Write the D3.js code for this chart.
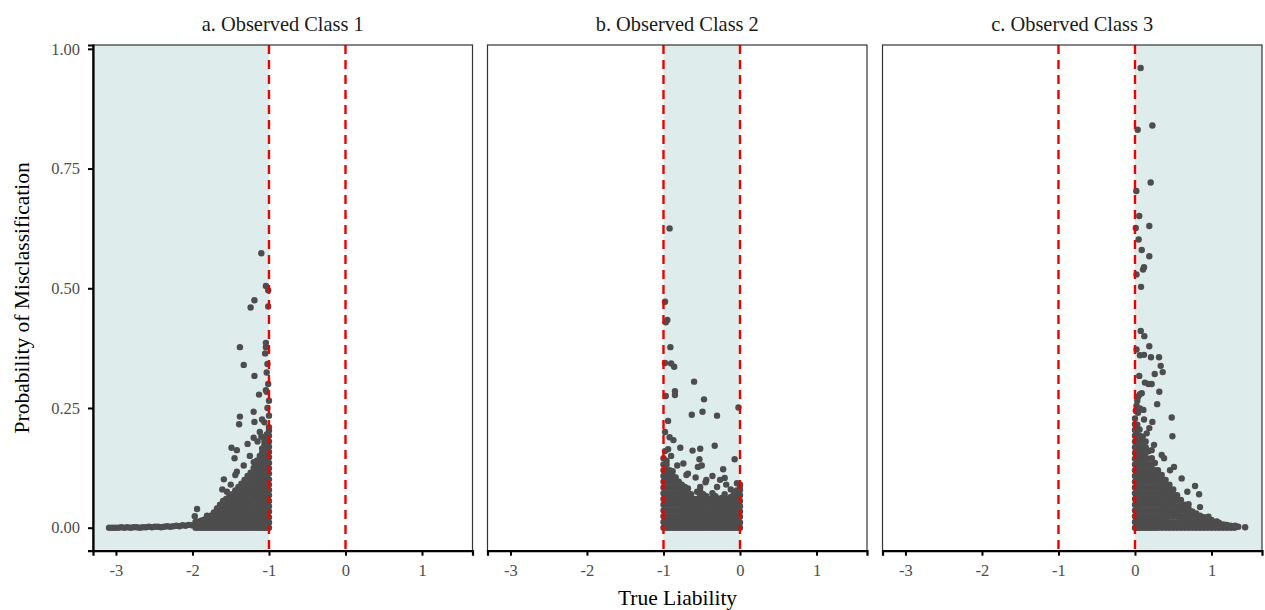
<!DOCTYPE html>
<html>
<head>
<meta charset="utf-8">
<script src="https://cdn.jsdelivr.net/npm/d3@7"></script>
<style>
  body { margin: 0; background: #fff; }
  text { font-family: "Liberation Serif", "Times New Roman", serif; }
</style>
</head>
<body>
<div id="plot"></div>
<script>
// Panel titles and axis info
const panelTitles = ["a. Observed Class 1", "b. Observed Class 2", "c. Observed Class 3"];
const cutpoints = [-1, 0];
const shadeRanges = [[null, -1], [-1, 0], [0, null]];
const xTicks = [-3, -2, -1, 0, 1];
const xTickLabels = ["-3", "-2", "-1", "0", "1"];
const yTicks = [0, 0.25, 0.5, 0.75, 1];
const yTickLabels = ["0.00", "0.25", "0.50", "0.75", "1.00"];

// Class 1: scattered points
const class1Points = [
  [-1.10,0.573],[-1.04,0.505],[-1.01,0.496],[-1.19,0.475],[-1.24,0.460],[-1.01,0.462],
  [-1.38,0.377],[-1.04,0.386],[-1.04,0.377],[-1.05,0.364],[-1.33,0.340],[-1.19,0.317],
  [-1.03,0.324],[-1.04,0.287],[-1.13,0.278],[-1.03,0.284],[-1.00,0.265],[-1.38,0.232],
  [-1.39,0.216],[-1.20,0.242],[-1.19,0.221],[-1.09,0.226],[-1.00,0.234],[-1.20,0.188],
  [-1.28,0.175],[-1.49,0.167],[-1.42,0.162],[-1.45,0.145],[-1.20,0.137],[-1.59,0.101],
  [-1.61,0.080],[-1.44,0.110],[-1.42,0.117],[-1.94,0.039],[-1.97,0.024],[-1.81,0.025],
  [-1.68,0.027],[-1.02,0.250],[-1.06,0.220],[-1.12,0.200],[-1.15,0.180],[-1.25,0.150],
  [-1.33,0.130],[-1.50,0.090],[-1.55,0.075],[-1.10,0.190],[-1.01,0.300],[-1.02,0.342]
];
// Class 1: long flat tail near zero
const class1Tail = [
  [-3.09,0.000],[-3.05,0.000],[-3.01,0.000],[-2.97,0.000],[-2.93,0.001],[-2.89,0.000],
  [-2.85,0.001],[-2.81,0.000],[-2.77,0.001],[-2.73,0.001],[-2.69,0.000],[-2.65,0.001],
  [-2.61,0.001],[-2.57,0.002],[-2.53,0.001],[-2.49,0.002],[-2.45,0.002],[-2.41,0.001],
  [-2.37,0.002],[-2.33,0.003],[-2.29,0.002],[-2.25,0.003],[-2.21,0.004],[-2.17,0.003],
  [-2.13,0.005],[-2.09,0.004],[-2.05,0.006],[-2.01,0.005]
];
// Class 1: dense mass, [x, [y values]]
const class1Dense = [
  [-1.00,[0,.011,.022,.034,.045,.056,.068,.079,.090,.101,.113,.124,.135,.147,.158,.169,.180,.192,.203,.210]],
  [-1.03,[0,.012,.023,.035,.047,.058,.070,.082,.093,.105,.117,.128,.140,.152,.163,.175,.187,.195]],
  [-1.06,[0,.011,.023,.034,.046,.057,.069,.080,.092,.103,.115,.126,.138,.149,.161,.172,.180]],
  [-1.09,[0,.012,.024,.036,.048,.060,.072,.084,.096,.108,.120,.132,.144,.156,.165]],
  [-1.12,[0,.012,.024,.036,.048,.060,.072,.084,.096,.108,.120,.132,.143,.150]],
  [-1.16,[0,.012,.024,.036,.047,.059,.071,.083,.095,.106,.118,.130,.140]],
  [-1.20,[0,.012,.024,.035,.047,.059,.070,.082,.094,.105,.117,.125]],
  [-1.24,[0,.011,.023,.034,.046,.057,.069,.080,.092,.103,.115]],
  [-1.28,[0,.012,.024,.036,.048,.060,.072,.084,.096,.108]],
  [-1.32,[0,.011,.022,.033,.044,.056,.067,.078,.089,.100]],
  [-1.36,[0,.012,.023,.035,.046,.058,.069,.081,.092]],
  [-1.40,[0,.011,.022,.033,.044,.055,.066,.077,.085]],
  [-1.44,[0,.011,.022,.034,.045,.056,.067,.078]],
  [-1.48,[0,.012,.023,.035,.047,.058,.070]],
  [-1.52,[0,.011,.021,.032,.043,.053,.064]],
  [-1.56,[0,.012,.024,.036,.048,.060]],
  [-1.60,[0,.011,.022,.034,.045,.056]],
  [-1.64,[0,.012,.024,.036,.048]],
  [-1.68,[0,.010,.020,.030,.040]],
  [-1.72,[0,.011,.021,.032]],
  [-1.76,[0,.012,.025]],
  [-1.80,[0,.010,.020]],
  [-1.84,[0,.009,.017]],
  [-1.88,[0,.008,.015]],
  [-1.92,[0,.007,.013]],
  [-1.96,[0,.006,.012]]
];

// Class 2: scattered points
const class2Points = [
  [-0.92,0.625],[-0.98,0.472],[-0.95,0.434],[-0.97,0.429],[-0.91,0.377],[-0.90,0.343],
  [-0.86,0.336],[-0.98,0.344],[-0.60,0.305],[-0.85,0.285],[-0.85,0.277],[-0.97,0.275],
  [-0.47,0.268],[-0.63,0.236],[-0.49,0.242],[-0.30,0.234],[-0.02,0.251],[-0.94,0.223],
  [-0.98,0.200],[-0.92,0.189],[-0.87,0.183],[-0.94,0.164],[-0.78,0.167],[-0.62,0.161],
  [-0.52,0.165],[-0.33,0.171],[-0.53,0.143],[-0.07,0.143],[-0.22,0.122],[-0.36,0.108],
  [-0.20,0.104],[-0.70,0.110],[-0.04,0.093],[0.00,0.087],[-0.98,0.160],[-0.90,0.150],
  [-0.82,0.130],[-0.74,0.134],[-0.68,0.113],[-0.55,0.127],[-0.50,0.130],[-0.44,0.100],
  [-0.58,0.105],[-0.45,0.095],[-0.30,0.085],[-0.26,0.100],[-0.18,0.090],[-0.12,0.080]
];
const class2Dense = [
  [-1.00,[0,.012,.024,.036,.048,.060,.072,.084,.096,.108,.120,.132,.145]],
  [-0.96,[0,.012,.024,.036,.048,.060,.072,.084,.096,.108,.120,.132,.140]],
  [-0.92,[0,.012,.024,.036,.048,.060,.072,.084,.096,.108,.120]],
  [-0.88,[0,.012,.024,.036,.048,.060,.072,.084,.096,.108,.118]],
  [-0.84,[0,.012,.024,.036,.048,.060,.072,.084,.096,.105]],
  [-0.80,[0,.012,.024,.036,.048,.060,.072,.084,.096]],
  [-0.76,[0,.011,.022,.034,.045,.056,.068,.079,.090]],
  [-0.72,[0,.011,.022,.033,.044,.055,.066,.077,.085]],
  [-0.68,[0,.012,.024,.036,.048,.060,.071,.082]],
  [-0.64,[0,.012,.024,.035,.047,.058,.070]],
  [-0.60,[0,.012,.024,.036,.048,.060]],
  [-0.56,[0,.012,.024,.036,.048,.060,.075]],
  [-0.52,[0,.011,.022,.033,.044,.055,.066,.077,.085]],
  [-0.48,[0,.012,.023,.035,.047,.058,.070]],
  [-0.44,[0,.011,.022,.033,.044,.055,.066]],
  [-0.40,[0,.012,.024,.036,.048,.060]],
  [-0.36,[0,.012,.024,.036,.048,.060,.072]],
  [-0.32,[0,.011,.022,.033,.044,.055,.066]],
  [-0.28,[0,.012,.024,.036,.048,.060]],
  [-0.24,[0,.010,.021,.031,.041,.052,.062]],
  [-0.20,[0,.012,.023,.035,.047,.058,.070]],
  [-0.16,[0,.012,.024,.036,.048,.060]],
  [-0.12,[0,.011,.021,.032,.043,.053,.064]],
  [-0.08,[0,.012,.023,.035,.047,.058,.070]],
  [-0.04,[0,.011,.022,.033,.045,.056,.067,.078]],
  [0.00,[0,.011,.023,.034,.045,.056,.068,.079,.090]]
];

// Class 3: scattered points
const class3Points = [
  [0.074,0.960],[0.227,0.840],[0.035,0.831],[0.205,0.721],[0.017,0.703],[0.056,0.651],
  [0.010,0.626],[0.187,0.630],[0.048,0.602],[0.088,0.580],[0.187,0.567],[0.118,0.544],
  [0.105,0.539],[0.020,0.529],[0.079,0.503],[0.075,0.411],[0.122,0.400],[0.187,0.379],
  [0.020,0.372],[0.065,0.360],[0.118,0.361],[0.209,0.356],[0.314,0.356],[0.336,0.338],
  [0.362,0.325],[0.258,0.321],[0.056,0.317],[0.130,0.303],[0.175,0.300],[0.218,0.300],
  [0.318,0.284],[0.065,0.279],[0.043,0.274],[0.088,0.281],[0.290,0.258],[0.065,0.249],
  [0.110,0.246],[0.480,0.230],[0.118,0.226],[0.227,0.221],[0.489,0.191],[0.187,0.208],
  [0.153,0.197],[0.249,0.173],[0.218,0.162],[0.349,0.152],[0.380,0.145],[0.458,0.120],
  [0.510,0.127],[0.610,0.103],[0.785,0.087],[0.684,0.075],[0.838,0.070],[0.510,0.065],
  [0.490,0.070],[0.850,0.043],[0.700,0.049],[0.960,0.023],[1.070,0.013],[1.180,0.006],
  [1.310,0.004],[1.440,0.001],[0.030,0.265],[0.020,0.255],[0.040,0.240],[0.010,0.245]
];
const class3Dense = [
  [0.00,[0,.012,.024,.036,.048,.060,.072,.084,.096,.108,.120,.132,.144,.156,.168,.180,.192,.204,.216,.228]],
  [0.03,[0,.012,.024,.036,.048,.060,.072,.084,.096,.108,.120,.132,.144,.156,.168,.180,.192,.204,.215]],
  [0.06,[0,.012,.024,.036,.048,.060,.072,.084,.096,.108,.120,.132,.144,.156,.168,.180,.192,.205]],
  [0.10,[0,.012,.024,.036,.048,.060,.072,.084,.096,.108,.120,.132,.144,.156,.168,.180,.190]],
  [0.14,[0,.012,.024,.036,.048,.060,.072,.084,.096,.108,.120,.132,.144,.156,.168,.180]],
  [0.18,[0,.012,.024,.036,.048,.060,.072,.084,.096,.108,.120,.132,.144,.160]],
  [0.22,[0,.012,.024,.036,.048,.060,.072,.084,.096,.108,.120,.132,.145]],
  [0.26,[0,.012,.024,.036,.048,.060,.072,.084,.096,.108,.120,.135]],
  [0.30,[0,.012,.024,.036,.048,.060,.072,.084,.096,.108,.120]],
  [0.35,[0,.011,.022,.033,.044,.055,.066,.077,.088,.099,.110]],
  [0.40,[0,.011,.022,.033,.044,.056,.067,.078,.089,.100]],
  [0.45,[0,.011,.023,.034,.045,.056,.068,.079,.090]],
  [0.50,[0,.011,.023,.034,.046,.057,.069,.080]],
  [0.55,[0,.011,.023,.034,.045,.057,.068]],
  [0.60,[0,.012,.023,.035,.046,.058]],
  [0.65,[0,.012,.024,.036,.048]],
  [0.70,[0,.010,.020,.030,.040]],
  [0.75,[0,.011,.023,.034]],
  [0.80,[0,.010,.020,.030]],
  [0.85,[0,.012,.025]],
  [0.90,[0,.011,.022]],
  [0.95,[0,.009,.018]],
  [1.00,[0,.008,.016]],
  [1.05,[0,.006,.012]],
  [1.10,[0,.005,.010]],
  [1.15,[0,.007]],
  [1.20,[0,.006]],
  [1.25,[0,.004]],
  [1.30,[0,.003]],
  [1.35,[0.002]]
];

// Layout
const width = 1265;
const height = 610;
const panelLefts = [93, 487.5, 882.5];
const panelW = 379.5;
const panelTop = 45;
const panelH = 505.7;

const x = d3.scaleLinear().domain([-3.30, 1.66]).range([0, panelW]);
const y = d3.scaleLinear().domain([-0.048, 1.008]).range([panelH, 0]);

const flatten = cols => cols.flatMap(([cx, ys]) => ys.map(v => [cx, v]));
const panelData = [
  class1Tail.concat(flatten(class1Dense), class1Points),
  flatten(class2Dense).concat(class2Points),
  flatten(class3Dense).concat(class3Points)
];

const svg = d3.select("#plot")
  .append("svg")
  .attr("width", width)
  .attr("height", height);

panelTitles.forEach((title, i) => {
  const g = svg.append("g")
    .attr("transform", `translate(${panelLefts[i]},${panelTop})`);

  // Shaded region for the observed class
  const [lo, hi] = shadeRanges[i];
  const x0 = lo === null ? 0 : x(lo);
  const x1 = hi === null ? panelW : x(hi);
  g.append("rect")
    .attr("x", x0)
    .attr("y", 0)
    .attr("width", x1 - x0)
    .attr("height", panelH)
    .attr("fill", "#dfecec");

  // Points
  g.append("g")
    .selectAll("circle")
    .data(panelData[i])
    .enter()
    .append("circle")
    .attr("cx", d => x(d[0]))
    .attr("cy", d => y(d[1]))
    .attr("r", 3.2)
    .attr("fill", "#4d4d4d");

  // Cutpoint lines
  g.selectAll(".cut")
    .data(cutpoints)
    .enter()
    .append("line")
    .attr("class", "cut")
    .attr("x1", d => x(d))
    .attr("x2", d => x(d))
    .attr("y1", 0)
    .attr("y2", panelH)
    .attr("stroke", "#f00000")
    .attr("stroke-width", 2.4)
    .attr("stroke-dasharray", "9,6");

  // Panel border
  g.append("rect")
    .attr("width", panelW)
    .attr("height", panelH)
    .attr("fill", "none")
    .attr("stroke", "#333")
    .attr("stroke-width", 1.2);

  // x-axis
  const xAxis = g.append("g")
    .attr("transform", `translate(0,${panelH})`)
    .call(d3.axisBottom(x).tickValues(xTicks).tickSize(5).tickPadding(9)
      .tickFormat((d, k) => xTickLabels[k]));
  xAxis.select(".domain").attr("stroke", "#000").attr("stroke-width", 2.2);
  xAxis.selectAll(".tick line").attr("stroke", "#000").attr("stroke-width", 2);
  xAxis.selectAll(".tick text")
    .attr("fill", "#4d4d4d")
    .style("font-size", "16.5px")
    .style("font-family", "'Liberation Serif', serif");

  // y-axis only on first panel
  if (i === 0) {
    const yAxis = g.append("g")
      .call(d3.axisLeft(y).tickValues(yTicks).tickSize(5).tickPadding(8)
        .tickFormat((d, k) => yTickLabels[k]));
    yAxis.select(".domain").attr("stroke", "#000").attr("stroke-width", 2.2);
    yAxis.selectAll(".tick line").attr("stroke", "#000").attr("stroke-width", 2);
    yAxis.selectAll(".tick text")
      .attr("fill", "#4d4d4d")
      .style("font-size", "16.5px")
      .style("font-family", "'Liberation Serif', serif");
  }

  // Strip title
  svg.append("text")
    .attr("x", panelLefts[i] + panelW / 2)
    .attr("y", 31)
    .attr("text-anchor", "middle")
    .attr("fill", "#1a1a1a")
    .style("font-size", "20.4px")
    .text(title);
});

// Axis titles
svg.append("text")
  .attr("x", (panelLefts[0] + panelLefts[2] + panelW) / 2)
  .attr("y", 605)
  .attr("text-anchor", "middle")
  .style("font-size", "21.5px")
  .text("True Liability");

svg.append("text")
  .attr("transform", "rotate(-90)")
  .attr("x", -(panelTop + panelH / 2))
  .attr("y", 29)
  .attr("text-anchor", "middle")
  .style("font-size", "21.5px")
  .text("Probability of Misclassification");
</script>
</body>
</html>
